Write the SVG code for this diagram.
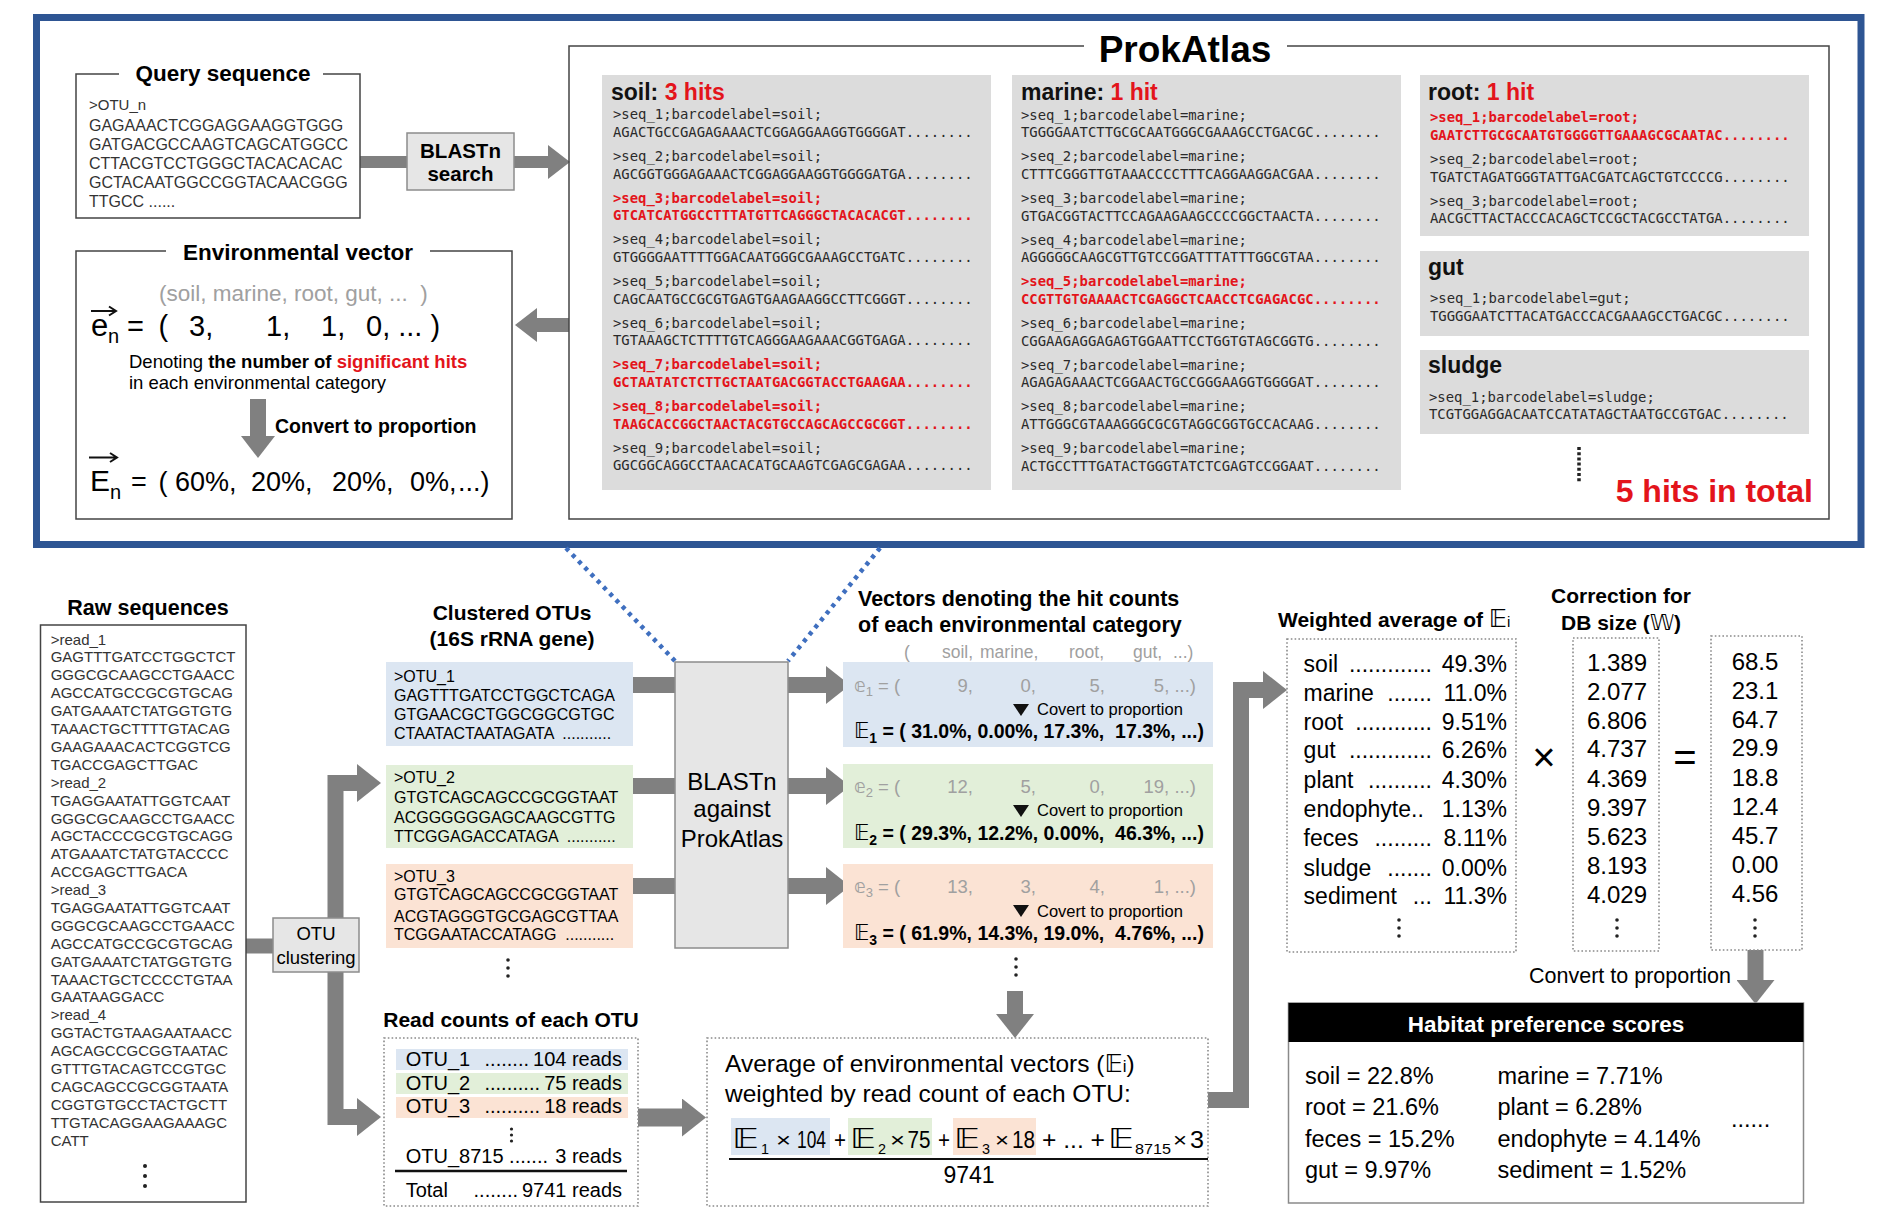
<svg xmlns="http://www.w3.org/2000/svg" width="1889" height="1226" viewBox="0 0 1889 1226">
<defs>
<style>
text { font-family: "Liberation Sans", Arial, sans-serif; }
.m { font-family: "DejaVu Sans Mono", "Liberation Mono", monospace; font-size: 13.9px; fill: #2a2a2a; }
.mr { font-family: "DejaVu Sans Mono", "Liberation Mono", monospace; font-size: 13.9px; fill: #e3141b; font-weight: bold; }
.pt { font-size: 23px; font-weight: bold; fill: #111; }
.red { fill: #e3141b; }
.panel { fill: #dcdcdc; }
.ln { fill: none; stroke: #444; stroke-width: 1.5; }
.dbox { fill: none; stroke: #8a8a8a; stroke-width: 1.6; stroke-dasharray: 1.6 2.2; }
.h { font-weight: bold; }
.band { fill: none; stroke: #808080; stroke-linejoin: miter; }
.seq { fill: #333; }
.gray { fill: #a0a0a0; }
.ds { font-family: "DejaVu Sans", sans-serif; }
.dt { fill: #222; }
.proc { fill: #e6e6e6; stroke: #8c8c8c; stroke-width: 1.5; }
.blue { fill: #dce6f2; }
.green { fill: #e2efd9; }
.salmon { fill: #fbe3d4; }
.wt { fill: #fff; }
</style>
<marker id="hs" viewBox="0 0 22 34" refX="0" refY="17" markerWidth="22" markerHeight="34" markerUnits="userSpaceOnUse" orient="auto"><path d="M0,0 L22,17 L0,34 Z" fill="#808080"/></marker>
<marker id="hb" viewBox="0 0 24 38" refX="0" refY="19" markerWidth="24" markerHeight="38" markerUnits="userSpaceOnUse" orient="auto"><path d="M0,0 L24,19 L0,38 Z" fill="#808080"/></marker>
</defs>
<rect x="0" y="0" width="1889" height="1226" fill="#fff"/>

<!-- Blue frame -->
<rect id="frame" x="36.5" y="17.5" width="1824.5" height="527" fill="none" stroke="#2e5593" stroke-width="7"/>

<!-- Connectors -->
<g id="connectors">
  <path class="band" stroke-width="12" d="M360 162 H407"/>
  <path class="band" stroke-width="12" d="M514 162 H548" marker-end="url(#hs)"/>
  <path class="band" stroke-width="14" d="M569 325 H537" marker-end="url(#hs)"/>
  <path class="band" stroke-width="16" d="M258 399 V436" marker-end="url(#hs)"/>
  <path class="band" stroke-width="15" d="M246 946 H273"/>
  <path class="band" stroke-width="16" d="M335.5 950 V783 H357" marker-end="url(#hb)"/>
  <path class="band" stroke-width="16" d="M335.5 940 V1117 H357" marker-end="url(#hb)"/>
  <path class="band" stroke-width="16" d="M633 685 H675"/>
  <path class="band" stroke-width="16" d="M633 786 H675"/>
  <path class="band" stroke-width="16" d="M633 886 H675"/>
  <path class="band" stroke-width="16" d="M788 685 H826" marker-end="url(#hb)"/>
  <path class="band" stroke-width="16" d="M788 786 H826" marker-end="url(#hb)"/>
  <path class="band" stroke-width="16" d="M788 886 H826" marker-end="url(#hb)"/>
  <path class="band" stroke-width="16" d="M1015 991 V1014" marker-end="url(#hb)"/>
  <path class="band" stroke-width="18" d="M638 1117.5 H682" marker-end="url(#hb)"/>
  <path class="band" stroke-width="16" d="M1208 1100 H1241 V690 H1263" marker-end="url(#hb)"/>
  <path class="band" stroke-width="16" d="M1755.5 950 V980" marker-end="url(#hb)"/>
  <path d="M566 548 L675 661" fill="none" stroke="#3f6fbf" stroke-width="4.5" stroke-dasharray="4 5"/>
  <path d="M880 548 L788 661" fill="none" stroke="#3f6fbf" stroke-width="4.5" stroke-dasharray="4 5"/>
</g>

<!-- Query sequence -->
<g id="query">
  <path class="ln" d="M119 74 H76 V218 H360 V74 H323"/>
  <text x="223" y="81" text-anchor="middle" class="h" font-size="22.5">Query sequence</text>
  <text class="seq" font-size="16"><tspan x="89" y="110" font-size="15">&gt;OTU_n</tspan><tspan x="89" y="130.5">GAGAAACTCGGAGGAAGGTGGG</tspan><tspan x="89" y="149.5">GATGACGCCAAGTCAGCATGGCC</tspan><tspan x="89" y="168.5">CTTACGTCCTGGGCTACACACAC</tspan><tspan x="89" y="187.5">GCTACAATGGCCGGTACAACGGG</tspan><tspan x="89" y="207">TTGCC ......</tspan></text>
</g>

<g id="blast-search">
  <rect class="proc" x="407" y="133" width="107" height="57"/>
  <text x="460.5" y="157.5" text-anchor="middle" class="h" font-size="20.5">BLASTn</text>
  <text x="460.5" y="180.5" text-anchor="middle" class="h" font-size="20.5">search</text>
</g>

<!-- Environmental vector -->
<g id="envvector">
  <path class="ln" d="M166 251 H76 V519 H512 V251 H430"/>
  <text x="298" y="260" text-anchor="middle" class="h" font-size="22.5">Environmental vector</text>
  <text x="159" y="301" font-size="22.5" class="gray" xml:space="preserve">(soil, marine, root, gut, ...  )</text>
  <text x="91" y="335.5" font-size="31">e</text>
  <text x="108" y="343" font-size="20">n</text>
  <path d="M91 311 H116 M109 306.5 L116 311 L109 315.5" fill="none" stroke="#111" stroke-width="2"/>
  <text y="335.5" font-size="29"><tspan x="127">=</tspan><tspan x="158.5">(</tspan><tspan x="189">3,</tspan><tspan x="266">1,</tspan><tspan x="321">1,</tspan><tspan x="366">0, ... )</tspan></text>
  <text x="129" y="368" font-size="18.5">Denoting <tspan font-weight="bold">the number of </tspan><tspan font-weight="bold" class="red">significant hits</tspan></text>
  <text x="129" y="389" font-size="18.5">in each environmental category</text>
  <text x="275" y="433" class="h" font-size="19.5">Convert to proportion</text>
  <text x="90" y="490.5" font-size="30">E</text>
  <text x="110" y="499" font-size="20">n</text>
  <path d="M89 457.5 H117 M110 453 L117 457.5 L110 462" fill="none" stroke="#111" stroke-width="2"/>
  <text y="490.5" font-size="27"><tspan x="131">=</tspan><tspan x="158.5">( 60%,</tspan><tspan x="251">20%,</tspan><tspan x="332">20%,</tspan><tspan x="410">0%,</tspan><tspan x="458">...)</tspan></text>
</g>

<!-- ProkAtlas -->
<g id="prokatlas">
  <path class="ln" d="M1084 46 H569 V519 H1829 V46 H1287"/>
  <text x="1185" y="62" text-anchor="middle" class="h" font-size="37">ProkAtlas</text>
</g>

<g id="soil">
  <rect class="panel" x="602" y="75" width="389" height="415"/>
  <text x="611" y="100" class="pt">soil: <tspan class="red">3 hits</tspan></text>
  <text class="m" x="613" y="119.3">&gt;seq_1;barcodelabel=soil;</text>
  <text class="m" x="613" y="137">AGACTGCCGAGAGAAACTCGGAGGAAGGTGGGGAT........</text>
  <text class="m" x="613" y="161">&gt;seq_2;barcodelabel=soil;</text>
  <text class="m" x="613" y="178.7">AGCGGTGGGAGAAACTCGGAGGAAGGTGGGGATGA........</text>
  <text class="mr" x="613" y="202.6">&gt;seq_3;barcodelabel=soil;</text>
  <text class="mr" x="613" y="220.3">GTCATCATGGCCTTTATGTTCAGGGCTACACACGT........</text>
  <text class="m" x="613" y="244.3">&gt;seq_4;barcodelabel=soil;</text>
  <text class="m" x="613" y="262">GTGGGGAATTTTGGACAATGGGCGAAAGCCTGATC........</text>
  <text class="m" x="613" y="285.9">&gt;seq_5;barcodelabel=soil;</text>
  <text class="m" x="613" y="303.6">CAGCAATGCCGCGTGAGTGAAGAAGGCCTTCGGGT........</text>
  <text class="m" x="613" y="327.6">&gt;seq_6;barcodelabel=soil;</text>
  <text class="m" x="613" y="345.3">TGTAAAGCTCTTTTGTCAGGGAAGAAACGGTGAGA........</text>
  <text class="mr" x="613" y="369.2">&gt;seq_7;barcodelabel=soil;</text>
  <text class="mr" x="613" y="386.9">GCTAATATCTCTTGCTAATGACGGTACCTGAAGAA........</text>
  <text class="mr" x="613" y="410.9">&gt;seq_8;barcodelabel=soil;</text>
  <text class="mr" x="613" y="428.6">TAAGCACCGGCTAACTACGTGCCAGCAGCCGCGGT........</text>
  <text class="m" x="613" y="452.5">&gt;seq_9;barcodelabel=soil;</text>
  <text class="m" x="613" y="470.2">GGCGGCAGGCCTAACACATGCAAGTCGAGCGAGAA........</text>
</g>

<g id="marine">
  <rect class="panel" x="1012" y="75" width="389" height="415"/>
  <text x="1021" y="99.5" class="pt">marine: <tspan class="red">1 hit</tspan></text>
  <text class="m" x="1021" y="120">&gt;seq_1;barcodelabel=marine;</text>
  <text class="m" x="1021" y="137.3">TGGGGAATCTTGCGCAATGGGCGAAAGCCTGACGC........</text>
  <text class="m" x="1021" y="161.3">&gt;seq_2;barcodelabel=marine;</text>
  <text class="m" x="1021" y="179">CTTTCGGGTTGTAAACCCCTTTCAGGAAGGACGAA........</text>
  <text class="m" x="1021" y="203">&gt;seq_3;barcodelabel=marine;</text>
  <text class="m" x="1021" y="220.6">GTGACGGTACTTCCAGAAGAAGCCCCGGCTAACTA........</text>
  <text class="m" x="1021" y="244.6">&gt;seq_4;barcodelabel=marine;</text>
  <text class="m" x="1021" y="262.3">AGGGGGCAAGCGTTGTCCGGATTTATTTGGCGTAA........</text>
  <text class="mr" x="1021" y="286.2">&gt;seq_5;barcodelabel=marine;</text>
  <text class="mr" x="1021" y="303.9">CCGTTGTGAAAACTCGAGGCTCAACCTCGAGACGC........</text>
  <text class="m" x="1021" y="327.9">&gt;seq_6;barcodelabel=marine;</text>
  <text class="m" x="1021" y="345.6">CGGAAGAGGAGAGTGGAATTCCTGGTGTAGCGGTG........</text>
  <text class="m" x="1021" y="369.5">&gt;seq_7;barcodelabel=marine;</text>
  <text class="m" x="1021" y="387.2">AGAGAGAAACTCGGAACTGCCGGGAAGGTGGGGAT........</text>
  <text class="m" x="1021" y="411.2">&gt;seq_8;barcodelabel=marine;</text>
  <text class="m" x="1021" y="428.9">ATTGGGCGTAAAGGGCGCGTAGGCGGTGCCACAAG........</text>
  <text class="m" x="1021" y="452.8">&gt;seq_9;barcodelabel=marine;</text>
  <text class="m" x="1021" y="470.5">ACTGCCTTTGATACTGGGTATCTCGAGTCCGGAAT........</text>
</g>

<g id="root">
  <rect class="panel" x="1420" y="75" width="389" height="161"/>
  <text x="1428" y="100" class="pt">root: <tspan class="red">1 hit</tspan></text>
  <text class="mr" x="1430" y="122.3">&gt;seq_1;barcodelabel=root;</text>
  <text class="mr" x="1430" y="140">GAATCTTGCGCAATGTGGGGTTGAAAGCGCAATAC........</text>
  <text class="m" x="1430" y="164">&gt;seq_2;barcodelabel=root;</text>
  <text class="m" x="1430" y="181.7">TGATCTAGATGGGTATTGACGATCAGCTGTCCCCG........</text>
  <text class="m" x="1430" y="205.7">&gt;seq_3;barcodelabel=root;</text>
  <text class="m" x="1430" y="223.4">AACGCTTACTACCCACAGCTCCGCTACGCCTATGA........</text>
</g>

<g id="gut">
  <rect class="panel" x="1420" y="251" width="389" height="85"/>
  <text x="1428" y="275" class="pt">gut</text>
  <text class="m" x="1430" y="303">&gt;seq_1;barcodelabel=gut;</text>
  <text class="m" x="1430" y="320.7">TGGGGAATCTTACATGACCCACGAAAGCCTGACGC........</text>
</g>

<g id="sludge">
  <rect class="panel" x="1420" y="350" width="389" height="84"/>
  <text x="1428" y="373" class="pt">sludge</text>
  <text class="m" x="1429" y="401.7">&gt;seq_1;barcodelabel=sludge;</text>
  <text class="m" x="1429" y="419">TCGTGGAGGACAATCCATATAGCTAATGCCGTGAC........</text>
</g>

<g id="hits-total">
  <path d="M1579 447 V483" stroke="#222" stroke-width="3.5" stroke-dasharray="3 2.2" fill="none"/>
  <text x="1813" y="502" text-anchor="end" class="h red" font-size="32">5 hits in total</text>
</g>

<!-- Raw sequences -->
<g id="raw">
  <text x="148" y="615" text-anchor="middle" class="h" font-size="21.5">Raw sequences</text>
  <rect x="40.5" y="625" width="205.5" height="577" fill="#fff" stroke="#444" stroke-width="1.5"/>
  <text class="seq" font-size="15"><tspan x="50.7" y="644.5">&gt;read_1</tspan><tspan x="50.7" dy="17.9">GAGTTTGATCCTGGCTCT</tspan><tspan x="50.7" dy="17.9">GGGCGCAAGCCTGAACC</tspan><tspan x="50.7" dy="17.9">AGCCATGCCGCGTGCAG</tspan><tspan x="50.7" dy="17.9">GATGAAATCTATGGTGTG</tspan><tspan x="50.7" dy="17.9">TAAACTGCTTTTGTACAG</tspan><tspan x="50.7" dy="17.9">GAAGAAACACTCGGTCG</tspan><tspan x="50.7" dy="17.9">TGACCGAGCTTGAC</tspan><tspan x="50.7" dy="17.9">&gt;read_2</tspan><tspan x="50.7" dy="17.9">TGAGGAATATTGGTCAAT</tspan><tspan x="50.7" dy="17.9">GGGCGCAAGCCTGAACC</tspan><tspan x="50.7" dy="17.9">AGCTACCCGCGTGCAGG</tspan><tspan x="50.7" dy="17.9">ATGAAATCTATGTACCCC</tspan><tspan x="50.7" dy="17.9">ACCGAGCTTGACA</tspan><tspan x="50.7" dy="17.9">&gt;read_3</tspan><tspan x="50.7" dy="17.9">TGAGGAATATTGGTCAAT</tspan><tspan x="50.7" dy="17.9">GGGCGCAAGCCTGAACC</tspan><tspan x="50.7" dy="17.9">AGCCATGCCGCGTGCAG</tspan><tspan x="50.7" dy="17.9">GATGAAATCTATGGTGTG</tspan><tspan x="50.7" dy="17.9">TAAACTGCTCCCCTGTAA</tspan><tspan x="50.7" dy="17.9">GAATAAGGACC</tspan><tspan x="50.7" dy="17.9">&gt;read_4</tspan><tspan x="50.7" dy="17.9">GGTACTGTAAGAATAACC</tspan><tspan x="50.7" dy="17.9">AGCAGCCGCGGTAATAC</tspan><tspan x="50.7" dy="17.9">GTTTGTACAGTCCGTGC</tspan><tspan x="50.7" dy="17.9">CAGCAGCCGCGGTAATA</tspan><tspan x="50.7" dy="17.9">CGGTGTGCCTACTGCTT</tspan><tspan x="50.7" dy="17.9">TTGTACAGGAAGAAAGC</tspan><tspan x="50.7" dy="17.9">CATT</tspan></text>
  <circle class="dt" cx="145" cy="1166" r="2"/><circle class="dt" cx="145" cy="1176" r="2"/><circle class="dt" cx="145" cy="1186" r="2"/>
</g>

<g id="otu-clustering">
  <rect class="proc" x="273" y="918" width="86" height="54"/>
  <text x="316" y="940" text-anchor="middle" font-size="18.5">OTU</text>
  <text x="316" y="964" text-anchor="middle" font-size="18.5">clustering</text>
</g>

<!-- Clustered OTUs -->
<g id="clustered-otus">
  <text x="512" y="620" text-anchor="middle" class="h" font-size="21">Clustered OTUs</text>
  <text x="512" y="646" text-anchor="middle" class="h" font-size="21">(16S rRNA gene)</text>
  <rect class="blue" x="386" y="662" width="247" height="84"/>
  <text font-size="16" xml:space="preserve"><tspan x="394" y="681.7">&gt;OTU_1</tspan><tspan x="394" dy="19.2">GAGTTTGATCCTGGCTCAGA</tspan><tspan x="394" dy="19.2">GTGAACGCTGGCGGCGTGC</tspan><tspan x="394" dy="19.2">CTAATACTAATAGATA  ...........</tspan></text>
  <rect class="green" x="386" y="765" width="247" height="83"/>
  <text font-size="16" xml:space="preserve"><tspan x="394" y="783.3">&gt;OTU_2</tspan><tspan x="394" dy="19.5">GTGTCAGCAGCCGCGGTAAT</tspan><tspan x="394" dy="20.5">ACGGGGGGAGCAAGCGTTG</tspan><tspan x="394" dy="19">TTCGGAGACCATAGA  ...........</tspan></text>
  <rect class="salmon" x="386" y="864" width="247" height="84"/>
  <text font-size="16" xml:space="preserve"><tspan x="394" y="881.7">&gt;OTU_3</tspan><tspan x="394" dy="18.5">GTGTCAGCAGCCGCGGTAAT</tspan><tspan x="394" dy="21.5">ACGTAGGGTGCGAGCGTTAA</tspan><tspan x="394" dy="18.5">TCGGAATACCATAGG  ...........</tspan></text>
  <circle class="dt" cx="508" cy="960" r="1.8"/><circle class="dt" cx="508" cy="968" r="1.8"/><circle class="dt" cx="508" cy="976" r="1.8"/>
</g>

<g id="blast-prokatlas">
  <rect class="proc" x="675" y="662" width="113" height="286"/>
  <text x="732" y="790" text-anchor="middle" font-size="24">BLASTn</text>
  <text x="732" y="817" text-anchor="middle" font-size="24">against</text>
  <text x="732" y="847" text-anchor="middle" font-size="24">ProkAtlas</text>
</g>

<!-- Vectors -->
<g id="vectors">
  <text x="858" y="606" class="h" font-size="21.5">Vectors denoting the hit counts</text>
  <text x="858" y="632" class="h" font-size="21.5">of each environmental category</text>
  <text y="658" font-size="17.5" class="gray"><tspan x="904">(</tspan><tspan x="942">soil,</tspan><tspan x="980">marine,</tspan><tspan x="1069">root,</tspan><tspan x="1133">gut,</tspan><tspan x="1173">...)</tspan></text>

  <rect class="blue" x="843" y="662" width="370" height="85"/>
  <text x="854" y="692" font-size="18.5" class="gray"><tspan class="ds" font-size="19">𝕖</tspan><tspan font-size="13" dy="4">1</tspan><tspan dy="-4"> = (</tspan></text>
  <text y="692" font-size="18.5" class="gray" text-anchor="end"><tspan x="973">9,</tspan><tspan x="1036">0,</tspan><tspan x="1105">5,</tspan><tspan x="1196">5, ...)</tspan></text>
  <path d="M1013 704 H1029 L1021 716 Z" fill="#111"/>
  <text x="1037" y="715" font-size="16.5">Covert to proportion</text>
  <text x="854" y="738" font-size="19.5" class="h" xml:space="preserve"><tspan class="ds" font-weight="normal" font-size="21">𝔼</tspan><tspan font-size="14" dy="5">1</tspan><tspan dy="-5"> = ( 31.0%, 0.00%, 17.3%,  17.3%, ...)</tspan></text>

  <rect class="green" x="843" y="764" width="370" height="84"/>
  <text x="854" y="793" font-size="18.5" class="gray"><tspan class="ds" font-size="19">𝕖</tspan><tspan font-size="13" dy="4">2</tspan><tspan dy="-4"> = (</tspan></text>
  <text y="793" font-size="18.5" class="gray" text-anchor="end"><tspan x="973">12,</tspan><tspan x="1036">5,</tspan><tspan x="1105">0,</tspan><tspan x="1196">19, ...)</tspan></text>
  <path d="M1013 805 H1029 L1021 817 Z" fill="#111"/>
  <text x="1037" y="816" font-size="16.5">Covert to proportion</text>
  <text x="854" y="840" font-size="19.5" class="h" xml:space="preserve"><tspan class="ds" font-weight="normal" font-size="21">𝔼</tspan><tspan font-size="14" dy="5">2</tspan><tspan dy="-5"> = ( 29.3%, 12.2%, 0.00%,  46.3%, ...)</tspan></text>

  <rect class="salmon" x="843" y="864" width="370" height="84"/>
  <text x="854" y="893" font-size="18.5" class="gray"><tspan class="ds" font-size="19">𝕖</tspan><tspan font-size="13" dy="4">3</tspan><tspan dy="-4"> = (</tspan></text>
  <text y="893" font-size="18.5" class="gray" text-anchor="end"><tspan x="973">13,</tspan><tspan x="1036">3,</tspan><tspan x="1105">4,</tspan><tspan x="1196">1, ...)</tspan></text>
  <path d="M1013 905 H1029 L1021 917 Z" fill="#111"/>
  <text x="1037" y="917" font-size="16.5">Covert to proportion</text>
  <text x="854" y="940" font-size="19.5" class="h" xml:space="preserve"><tspan class="ds" font-weight="normal" font-size="21">𝔼</tspan><tspan font-size="14" dy="5">3</tspan><tspan dy="-5"> = ( 61.9%, 14.3%, 19.0%,  4.76%, ...)</tspan></text>
  <circle class="dt" cx="1016" cy="959" r="1.8"/><circle class="dt" cx="1016" cy="967" r="1.8"/><circle class="dt" cx="1016" cy="975" r="1.8"/>
</g>

<!-- Read counts -->
<g id="readcounts">
  <text x="511" y="1027" text-anchor="middle" class="h" font-size="21">Read counts of each OTU</text>
  <rect class="dbox" x="384" y="1038" width="254" height="168"/>
  <rect class="blue" x="396" y="1049" width="232" height="21"/>
  <rect class="green" x="396" y="1073" width="232" height="21"/>
  <rect class="salmon" x="396" y="1097" width="232" height="21"/>
  <g font-size="20">
    <text x="405.7" y="1066">OTU_1</text><text x="529" y="1066" text-anchor="end">........</text><text x="622" y="1066" text-anchor="end">104 reads</text>
    <text x="405.7" y="1090">OTU_2</text><text x="540" y="1090" text-anchor="end">..........</text><text x="622" y="1090" text-anchor="end">75 reads</text>
    <text x="405.7" y="1113">OTU_3</text><text x="540" y="1113" text-anchor="end">..........</text><text x="622" y="1113" text-anchor="end">18 reads</text>
    <text x="405.7" y="1163">OTU_8715</text><text x="548" y="1163" text-anchor="end">.......</text><text x="622" y="1163" text-anchor="end">3 reads</text>
    <text x="405.7" y="1197">Total</text><text x="518" y="1197" text-anchor="end">........</text><text x="622" y="1197" text-anchor="end">9741 reads</text>
  </g>
  <circle class="dt" cx="511.5" cy="1129" r="1.6"/><circle class="dt" cx="511.5" cy="1135" r="1.6"/><circle class="dt" cx="511.5" cy="1141" r="1.6"/>
  <line x1="395" y1="1171" x2="627" y2="1171" stroke="#111" stroke-width="2.7"/>
</g>

<!-- Average -->
<g id="average">
  <rect class="dbox" x="707" y="1038" width="501" height="168"/>
  <text x="725" y="1072" font-size="24.5">Average of environmental vectors (<tspan class="ds" font-size="25">𝔼</tspan><tspan font-size="17">i</tspan>)</text>
  <text x="725" y="1102" font-size="24.5">weighted by read count of each OTU:</text>
  <rect class="blue" x="731" y="1118" width="99" height="37"/>
  <rect class="green" x="848" y="1118" width="84" height="37"/>
  <rect class="salmon" x="953" y="1118" width="83" height="37"/>
  <g font-size="24">
    <text x="732" y="1148" class="ds" font-size="27" textLength="27" lengthAdjust="spacingAndGlyphs">𝔼</text>
    <text x="761" y="1154" font-size="15" textLength="8" lengthAdjust="spacingAndGlyphs">1</text>
    <text x="776" y="1147" font-size="20" textLength="15" lengthAdjust="spacingAndGlyphs">×</text>
    <text x="797" y="1148" textLength="29" lengthAdjust="spacingAndGlyphs">104</text>
    <text x="834" y="1148" textLength="12" lengthAdjust="spacingAndGlyphs">+</text>
    <text x="850" y="1148" class="ds" font-size="27" textLength="26" lengthAdjust="spacingAndGlyphs">𝔼</text>
    <text x="878" y="1154" font-size="15" textLength="8" lengthAdjust="spacingAndGlyphs">2</text>
    <text x="890" y="1147" font-size="20" textLength="15" lengthAdjust="spacingAndGlyphs">×</text>
    <text x="907.6" y="1148" textLength="23" lengthAdjust="spacingAndGlyphs">75</text>
    <text x="938" y="1148" textLength="12" lengthAdjust="spacingAndGlyphs">+</text>
    <text x="954" y="1148" class="ds" font-size="27" textLength="26" lengthAdjust="spacingAndGlyphs">𝔼</text>
    <text x="982" y="1154" font-size="15" textLength="8" lengthAdjust="spacingAndGlyphs">3</text>
    <text x="995" y="1147" font-size="20" textLength="14" lengthAdjust="spacingAndGlyphs">×</text>
    <text x="1012" y="1148" textLength="23" lengthAdjust="spacingAndGlyphs">18</text>
    <text x="1042" y="1148" textLength="63" lengthAdjust="spacingAndGlyphs">+ ... +</text>
    <text x="1108" y="1148" class="ds" font-size="27" textLength="26" lengthAdjust="spacingAndGlyphs">𝔼</text>
    <text x="1135" y="1154" font-size="15" textLength="36" lengthAdjust="spacingAndGlyphs">8715</text>
    <text x="1173" y="1147" font-size="20" textLength="14" lengthAdjust="spacingAndGlyphs">×</text>
    <text x="1190" y="1148" textLength="14" lengthAdjust="spacingAndGlyphs">3</text>
  </g>
  <line x1="729" y1="1159" x2="1208" y2="1159" stroke="#111" stroke-width="2"/>
  <text x="969" y="1183" text-anchor="middle" font-size="23">9741</text>
</g>

<!-- Weighted average -->
<g id="weighted">
  <text x="1278" y="627" class="h" font-size="21">Weighted average of <tspan class="ds" font-weight="normal" font-size="25">𝔼</tspan><tspan font-weight="normal" font-size="15">i</tspan></text>
  <rect class="dbox" x="1287" y="639" width="229" height="313"/>
  <g font-size="23">
    <text x="1303.6" y="672">soil</text><text x="1432" y="672" text-anchor="end">.............</text><text x="1507" y="672" text-anchor="end">49.3%</text>
    <text x="1303.6" y="700.5">marine</text><text x="1432" y="700.5" text-anchor="end">.......</text><text x="1507" y="700.5" text-anchor="end">11.0%</text>
    <text x="1303.6" y="729.5">root</text><text x="1432" y="729.5" text-anchor="end">............</text><text x="1507" y="729.5" text-anchor="end">9.51%</text>
    <text x="1303.6" y="758">gut</text><text x="1432" y="758" text-anchor="end">.............</text><text x="1507" y="758" text-anchor="end">6.26%</text>
    <text x="1303.6" y="787.5">plant</text><text x="1432" y="787.5" text-anchor="end">..........</text><text x="1507" y="787.5" text-anchor="end">4.30%</text>
    <text x="1303.6" y="817">endophyte..</text><text x="1507" y="817" text-anchor="end">1.13%</text>
    <text x="1303.6" y="846">feces</text><text x="1432" y="846" text-anchor="end">.........</text><text x="1507" y="846" text-anchor="end">8.11%</text>
    <text x="1303.6" y="875.5">sludge</text><text x="1432" y="875.5" text-anchor="end">.......</text><text x="1507" y="875.5" text-anchor="end">0.00%</text>
    <text x="1303.6" y="904">sediment</text><text x="1432" y="904" text-anchor="end">...</text><text x="1507" y="904" text-anchor="end">11.3%</text>
  </g>
  <circle class="dt" cx="1399" cy="920" r="1.8"/><circle class="dt" cx="1399" cy="928" r="1.8"/><circle class="dt" cx="1399" cy="936" r="1.8"/>
</g>

<text x="1544" y="771" text-anchor="middle" font-size="40">×</text>

<g id="correction">
  <text x="1621" y="603" text-anchor="middle" class="h" font-size="21">Correction for</text>
  <text x="1621" y="630" text-anchor="middle" class="h" font-size="21">DB size (<tspan class="ds" font-weight="normal" font-size="22">𝕎</tspan>)</text>
  <rect class="dbox" x="1573" y="638" width="86" height="313"/>
  <g font-size="24" text-anchor="middle">
    <text x="1617" y="671">1.389</text><text x="1617" y="699.5">2.077</text><text x="1617" y="728.5">6.806</text><text x="1617" y="757">4.737</text><text x="1617" y="786.5">4.369</text><text x="1617" y="816">9.397</text><text x="1617" y="845">5.623</text><text x="1617" y="874">8.193</text><text x="1617" y="902.5">4.029</text>
  </g>
  <circle class="dt" cx="1617" cy="920" r="1.8"/><circle class="dt" cx="1617" cy="928" r="1.8"/><circle class="dt" cx="1617" cy="936" r="1.8"/>
</g>

<text x="1685" y="771" text-anchor="middle" font-size="40">=</text>

<g id="result">
  <rect class="dbox" x="1711" y="636" width="91" height="314"/>
  <g font-size="24" text-anchor="middle">
    <text x="1755" y="670">68.5</text><text x="1755" y="698.5">23.1</text><text x="1755" y="727.5">64.7</text><text x="1755" y="756">29.9</text><text x="1755" y="785.5">18.8</text><text x="1755" y="815">12.4</text><text x="1755" y="844">45.7</text><text x="1755" y="873">0.00</text><text x="1755" y="901.5">4.56</text>
  </g>
  <circle class="dt" cx="1755" cy="920" r="1.8"/><circle class="dt" cx="1755" cy="928" r="1.8"/><circle class="dt" cx="1755" cy="936" r="1.8"/>
  <text x="1731" y="983" text-anchor="end" font-size="21.5">Convert to proportion</text>
</g>

<!-- Habitat -->
<g id="habitat">
  <rect x="1288.5" y="1003" width="515" height="200" fill="#fff" stroke="#8a8a8a" stroke-width="1.5"/>
  <rect x="1288.5" y="1003" width="515" height="39" fill="#000"/>
  <text x="1546" y="1032" text-anchor="middle" class="h wt" font-size="22.5">Habitat preference scores</text>
  <g font-size="23.5">
    <text x="1305" y="1084">soil = 22.8%</text>
    <text x="1305" y="1115">root = 21.6%</text>
    <text x="1305" y="1147">feces = 15.2%</text>
    <text x="1305" y="1178">gut = 9.97%</text>
    <text x="1497.5" y="1084">marine = 7.71%</text>
    <text x="1497.5" y="1115">plant = 6.28%</text>
    <text x="1497.5" y="1147">endophyte = 4.14%</text>
    <text x="1497.5" y="1178">sediment = 1.52%</text>
    <text x="1731" y="1127">......</text>
  </g>
</g>
</svg>
